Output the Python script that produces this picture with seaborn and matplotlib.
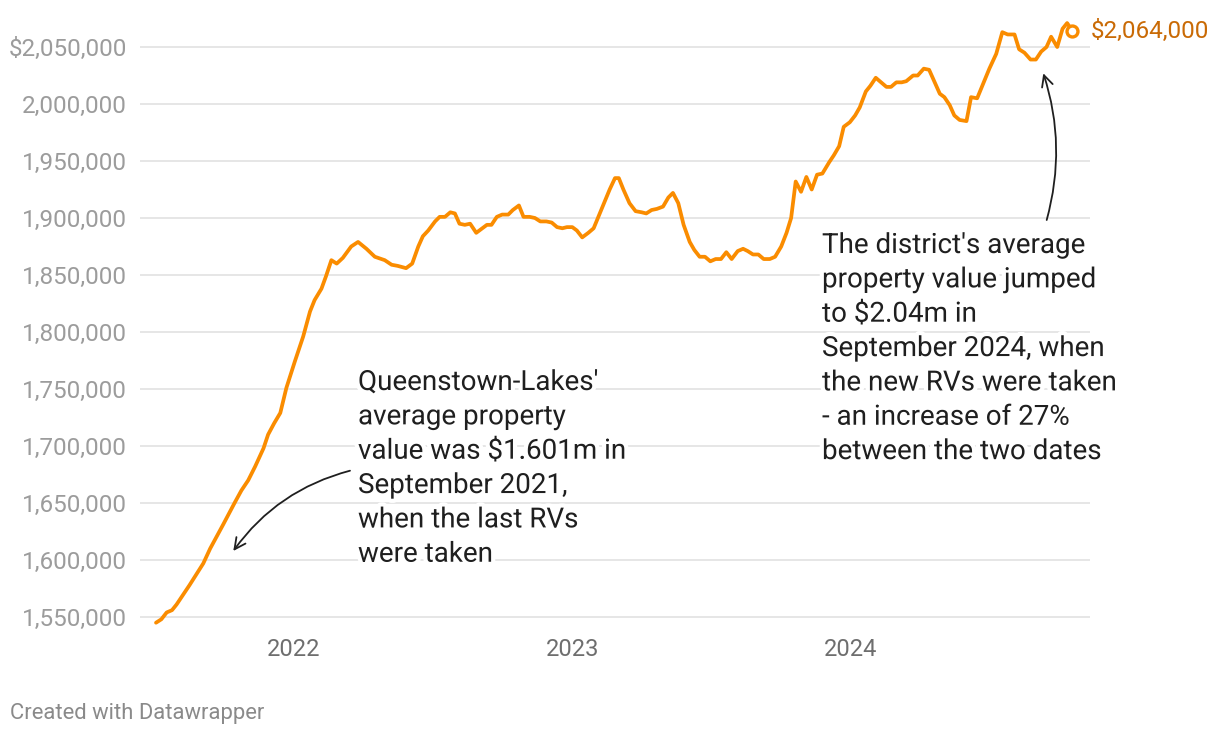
import matplotlib
matplotlib.use('Agg')
import matplotlib.pyplot as plt
import matplotlib.patheffects as pe
from matplotlib.patches import FancyArrowPatch
import seaborn as sns
import pandas as pd

# ---------------- data ----------------
dates = [
    '2021-07-04', '2021-07-11', '2021-07-18', '2021-07-25', '2021-07-31', '2021-08-07', '2021-08-17',
    '2021-09-04', '2021-09-13', '2021-09-30', '2021-10-15', '2021-10-24', '2021-11-02', '2021-11-11',
    '2021-11-22', '2021-11-28', '2021-12-06', '2021-12-14', '2021-12-22', '2022-01-02', '2022-01-13',
    '2022-01-22', '2022-01-28', '2022-02-06', '2022-02-12', '2022-02-19', '2022-02-26', '2022-03-06',
    '2022-03-17', '2022-03-26', '2022-04-06', '2022-04-17', '2022-04-30', '2022-05-09', '2022-05-17',
    '2022-05-28', '2022-06-05', '2022-06-13', '2022-06-19', '2022-06-26', '2022-07-05', '2022-07-11',
    '2022-07-18', '2022-07-25', '2022-07-31', '2022-08-06', '2022-08-13', '2022-08-20', '2022-08-28',
    '2022-09-05', '2022-09-11', '2022-09-17', '2022-09-24', '2022-10-01', '2022-10-09', '2022-10-15',
    '2022-10-23', '2022-10-29', '2022-11-06', '2022-11-13', '2022-11-20', '2022-11-28', '2022-12-05',
    '2022-12-12', '2022-12-19', '2022-12-25', '2023-01-01', '2023-01-07', '2023-01-14', '2023-01-22',
    '2023-01-29', '2023-02-06', '2023-02-12', '2023-02-19', '2023-02-26', '2023-03-03', '2023-03-09',
    '2023-03-17', '2023-03-25', '2023-04-02', '2023-04-08', '2023-04-15', '2023-04-22', '2023-04-30',
    '2023-05-07', '2023-05-13', '2023-05-20', '2023-05-27', '2023-06-04', '2023-06-10', '2023-06-17',
    '2023-06-24', '2023-07-01', '2023-07-08', '2023-07-15', '2023-07-22', '2023-07-29', '2023-08-06',
    '2023-08-13', '2023-08-19', '2023-08-26', '2023-09-02', '2023-09-09', '2023-09-17', '2023-09-24',
    '2023-10-02', '2023-10-09', '2023-10-15', '2023-10-21', '2023-10-28', '2023-11-04', '2023-11-11',
    '2023-11-18', '2023-11-25', '2023-12-04', '2023-12-10', '2023-12-17', '2023-12-23', '2023-12-31',
    '2024-01-07', '2024-01-13', '2024-01-21', '2024-01-27', '2024-02-03', '2024-02-10', '2024-02-17',
    '2024-02-23', '2024-03-01', '2024-03-08', '2024-03-14', '2024-03-23', '2024-03-29', '2024-04-06',
    '2024-04-13', '2024-04-19', '2024-04-27', '2024-05-03', '2024-05-10', '2024-05-16', '2024-05-23',
    '2024-06-01', '2024-06-07', '2024-06-15', '2024-06-23', '2024-07-01', '2024-07-10', '2024-07-18',
    '2024-07-25', '2024-08-03', '2024-08-09', '2024-08-16', '2024-08-24', '2024-08-31', '2024-09-07',
    '2024-09-14', '2024-09-20', '2024-09-28', '2024-10-05', '2024-10-11', '2024-10-18',
]
values = [
    1545000, 1548000, 1554000, 1556000, 1561000, 1568000, 1578000,
    1597000, 1610000, 1631000, 1650000, 1661000, 1670000, 1682000,
    1698000, 1710000, 1720000, 1729000, 1751000, 1774000, 1796000,
    1818000, 1828000, 1838000, 1849000, 1863000, 1860000, 1865000,
    1875000, 1879000, 1873000, 1866000, 1863000, 1859000, 1858000,
    1856000, 1860000, 1875000, 1884000, 1889000, 1897000, 1901000,
    1901000, 1905000, 1904000, 1895000, 1894000, 1895000, 1887000,
    1891000, 1894000, 1894000, 1901000, 1903000, 1903000, 1907000,
    1911000, 1901000, 1901000, 1900000, 1897000, 1897000, 1896000,
    1892000, 1891000, 1892000, 1892000, 1889000, 1883000, 1887000,
    1891000, 1904000, 1914000, 1925000, 1935000, 1935000, 1925000,
    1913000, 1906000, 1905000, 1904000, 1907000, 1908000, 1910000,
    1918000, 1922000, 1913000, 1894000, 1879000, 1872000, 1866000,
    1866000, 1862000, 1864000, 1864000, 1870000, 1864000, 1871000,
    1873000, 1871000, 1868000, 1868000, 1864000, 1864000, 1866000,
    1875000, 1887000, 1900000, 1932000, 1923000, 1936000, 1925000,
    1938000, 1939000, 1949000, 1955000, 1963000, 1980000, 1984000,
    1990000, 1997000, 2011000, 2016000, 2023000, 2019000, 2015000,
    2015000, 2019000, 2019000, 2020000, 2025000, 2025000, 2031000,
    2030000, 2021000, 2009000, 2006000, 1999000, 1990000, 1986000,
    1985000, 2006000, 2005000, 2018000, 2031000, 2044000, 2063000,
    2061000, 2061000, 2048000, 2045000, 2039000, 2039000, 2046000,
    2050000, 2059000, 2050000, 2066000, 2071000, 2064000,
]
y_ticks = [1550000, 1600000, 1650000, 1700000, 1750000, 1800000,
           1850000, 1900000, 1950000, 2000000, 2050000]
x_tick_dates = ['2022-01-01', '2023-01-01', '2024-01-01']
x_tick_labels = ['2022', '2023', '2024']
end_label = '$2,064,000'
note_2021 = ("Queenstown-Lakes'\naverage property\nvalue was $1.601m in\n"
             "September 2021,\nwhen the last RVs\nwere taken")
note_2024 = ("The district's average\nproperty value jumped\nto $2.04m in\n"
             "September 2024, when\nthe new RVs were taken\n- an increase of 27%\n"
             "between the two dates")
footer = 'Created with Datawrapper'

# ---------------- style ----------------
ORANGE = '#fa8c00'
LABEL_ORANGE = '#c96a05'
TEXT = '#1f1f1f'

sns.set_theme(style='white')
plt.rcParams['font.family'] = ['Roboto', 'DejaVu Sans']

W, H = 1220, 738
fig = plt.figure(figsize=(W / 100, H / 100), dpi=100)
fig.patch.set_facecolor('white')
ax = fig.add_axes([140 / W, 1 - 634.1 / H, 950 / W, (634.1 - 12.8) / H])
ax.set_facecolor('white')

df = pd.DataFrame({'date': pd.to_datetime(dates), 'value': values})
sns.lineplot(data=df, x='date', y='value', ax=ax, color=ORANGE, linewidth=2.7,
             solid_joinstyle='round', solid_capstyle='round', zorder=3)

last = df.iloc[-1]
ax.scatter([last['date']], [last['value']], s=62, facecolor='white',
           edgecolor=ORANGE, linewidth=2.4, zorder=5)
ax.annotate(end_label, xy=(last['date'], last['value']), xytext=(13.5, 0),
            textcoords='offset points', va='center', ha='left',
            fontsize=17.5, color=LABEL_ORANGE, annotation_clip=False)

ax.set_xlim(pd.Timestamp('2021-06-13'), pd.Timestamp('2024-11-10'))
ax.set_ylim(1535000, 2080000)

ax.set_yticks(y_ticks)
ylabels = [f'{v:,}' for v in y_ticks]
ylabels[-1] = '$' + ylabels[-1]
ax.set_yticklabels(ylabels)
ax.set_xticks(pd.to_datetime(x_tick_dates))
ax.set_xticklabels(x_tick_labels)

ax.yaxis.grid(True, color='#e4e4e4', linewidth=1.3, zorder=0)
ax.xaxis.grid(False)
for s in ax.spines.values():
    s.set_visible(False)
ax.tick_params(axis='y', length=0, pad=9.4, labelsize=17.5, labelcolor='#9c9c9c')
ax.tick_params(axis='x', length=0, pad=2.6, labelsize=17, labelcolor='#6e6e6e')
ax.set_xlabel('')
ax.set_ylabel('')

halo = [pe.withStroke(linewidth=6, foreground='white')]
fig.text(358 / W, 1 - 369 / H, note_2021, va='top', ha='left', fontsize=20,
         color=TEXT, linespacing=1.35, path_effects=halo, zorder=6)
fig.text(822 / W, 1 - 232 / H, note_2024, va='top', ha='left', fontsize=20,
         color=TEXT, linespacing=1.35, path_effects=halo, zorder=6)

arrow_kw = dict(arrowstyle='->', color=TEXT, lw=1.3, shrinkA=0, shrinkB=0,
                mutation_scale=20)
fig.add_artist(FancyArrowPatch(
    (350 / W, 1 - 470.7 / H), (233.3 / W, 1 - 551 / H),
    transform=fig.transFigure, connectionstyle='arc3,rad=0.18', **arrow_kw))
fig.add_artist(FancyArrowPatch(
    (1046.7 / W, 1 - 220 / H), (1043.3 / W, 1 - 73.3 / H),
    transform=fig.transFigure, connectionstyle='arc3,rad=0.15', **arrow_kw))

fig.text(10 / W, 1 - 714 / H, footer, va='center', ha='left', fontsize=15.8,
         color='#8a8a8a')

fig.savefig('out.png', dpi=100, facecolor='white')
